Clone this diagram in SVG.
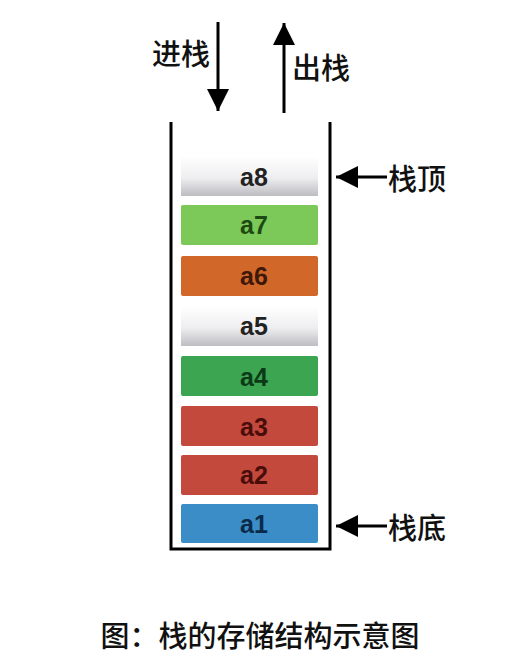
<svg xmlns="http://www.w3.org/2000/svg" width="526" height="670" viewBox="0 0 526 670">
<style>
.lbl{font-family:"Liberation Sans",Arial,sans-serif;font-weight:bold;font-size:25px;text-anchor:middle;dominant-baseline:central}
.cjk{font-family:"Noto Sans CJK SC","Noto Sans",sans-serif;font-size:29px;font-weight:500;fill:#111;dominant-baseline:central}
.line{stroke:#000;stroke-width:3;fill:none}
</style>
<defs>
<linearGradient id="gray" x1="0" y1="0" x2="0" y2="1">
<stop offset="0" stop-color="#ffffff"/>
<stop offset="0.55" stop-color="#eeeef0"/>
<stop offset="1" stop-color="#bdbdc2"/>
</linearGradient>
<marker id="ahBig" viewBox="0 0 10 10" refX="10" refY="5" markerWidth="22" markerHeight="22" markerUnits="userSpaceOnUse" orient="auto">
<path d="M0,0 L10,5 L0,10 z" fill="#000"/>
</marker>
</defs>
<rect width="526" height="670" fill="#fff"/>
<g id="container">
<path class="line" d="M171,122 V549 H330 V122"/>
</g>
<g id="a8"><rect x="181" y="156" width="137" height="40" fill="url(#gray)"/><text class="lbl" x="254" y="177" fill="#222">a8</text></g>
<g id="a7"><rect x="181" y="205" width="137" height="40" rx="2" fill="#7cc95a"/><text class="lbl" x="254" y="225" fill="#1d4a12">a7</text></g>
<g id="a6"><rect x="181" y="256" width="137" height="40" rx="2" fill="#d2672a"/><text class="lbl" x="254" y="276" fill="#3e1808">a6</text></g>
<g id="a5"><rect x="181" y="306" width="137" height="40" fill="url(#gray)"/><text class="lbl" x="254" y="326" fill="#222">a5</text></g>
<g id="a4"><rect x="181" y="356" width="137" height="40" rx="2" fill="#3ca552"/><text class="lbl" x="254" y="377" fill="#0c3a18">a4</text></g>
<g id="a3"><rect x="181" y="406" width="137" height="40" rx="2" fill="#c4493d"/><text class="lbl" x="254" y="427" fill="#4a0e0a">a3</text></g>
<g id="a2"><rect x="181" y="455" width="137" height="40" rx="2" fill="#c4493d"/><text class="lbl" x="254" y="475" fill="#4a0e0a">a2</text></g>
<g id="a1"><rect x="181" y="504" width="137" height="39" rx="2" fill="#3a8dc6"/><text class="lbl" x="254" y="524" fill="#0b2a4a">a1</text></g>
<g id="connectors">
<line class="line" x1="218" y1="22" x2="218" y2="111" marker-end="url(#ahBig)"/>
<line class="line" x1="284" y1="113" x2="284" y2="23" marker-end="url(#ahBig)"/>
<line class="line" x1="387" y1="177" x2="336" y2="177" marker-end="url(#ahBig)"/>
<line class="line" x1="387" y1="526" x2="336" y2="526" marker-end="url(#ahBig)"/>
</g>
<g id="labels">
<text class="cjk" x="152" y="52">进栈</text>
<text class="cjk" x="292" y="66">出栈</text>
<text class="cjk" x="388" y="177">栈顶</text>
<text class="cjk" x="388" y="526">栈底</text>
<text class="cjk" x="260" y="634" text-anchor="middle">图：栈的存储结构示意图</text>
</g>
</svg>
